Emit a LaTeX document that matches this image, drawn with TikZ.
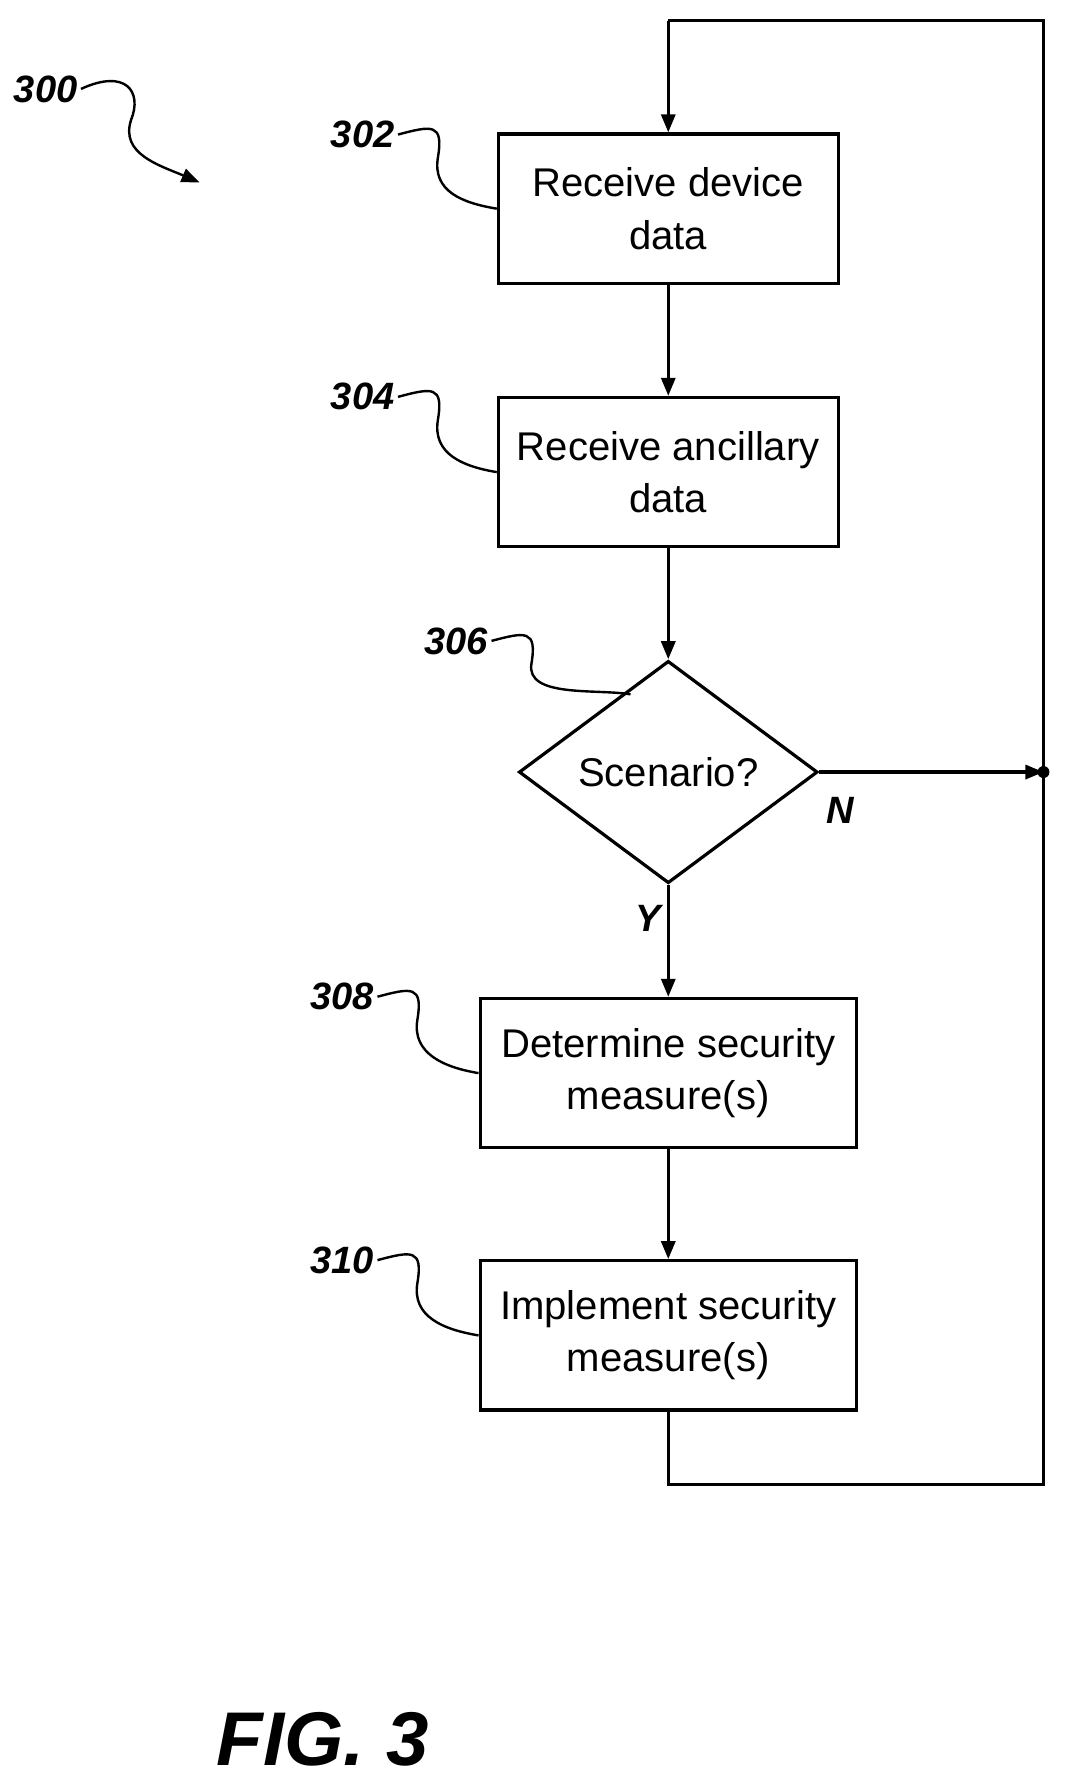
\documentclass[tikz,border=0pt]{standalone}
\usepackage{fontspec}
\setmainfont{Liberation Sans}
\usetikzlibrary{shapes.geometric, positioning, arrows.meta, calc}

\begin{document}
\begin{tikzpicture}[x=0.02cm,y=-0.02cm,
      line width=1.6pt,
      >={Triangle[length=9pt,width=7pt]},
      block/.style={
        draw,
        minimum width=5.96cm,
        minimum height=2.62cm,
        align=center,
        font=\fontsize{20}{26}\selectfont,
        inner sep=0pt,
      },
      wide/.style={block,minimum width=6.6cm},
      decision/.style={
        draw,
        diamond,
        minimum width=5.24cm,
        minimum height=3.9cm,
        inner sep=0pt,
        font=\fontsize{20}{26}\selectfont,
      },
      ref/.style={font=\bfseries\itshape\fontsize{19}{22}\selectfont,inner sep=1pt},
      lead/.style={line width=1.2pt},
      ]
      \useasboundingbox (0,0) rectangle (940,1567);
      \node[block] (recv) at (586,183) {Receive device\\data};
      \node[block] (anc) at (586,414) {Receive ancillary\\data};
      \node[decision] (scen) at (586,677) {Scenario?};
      \node[wide] (det) at (586,941) {Determine security\\measure(s)};
      \node[wide] (impl) at (586,1171) {Implement security\\measure(s)};
      \coordinate (join) at (915,677);
      \coordinate (br) at (915,1302);
      \coordinate (bl) at (586,1302);
      \coordinate (tr) at (915,18);
      \coordinate (tl) at (586,18);
      \draw[->] (recv) -- (anc);
      \draw[->] (anc) -- (scen);
      \draw[->] (scen) -- node[pos=0.3,left=2pt,ref]{Y} (det);
      \draw[->] (det) -- (impl);
      \draw[->] (scen.east) -- (join);
      \fill (join) circle (3pt);
      \draw (impl) -- (bl) -- (br) -- (tr) -- (tl);
      \draw[->] (tl) -- (recv);
      \node[ref] (no) at (737,711) {N};
      % reference numerals
      \node[ref] (n300) at (40,78) {300};
      \node[ref] (n302) at (318,118) {302};
      \node[ref] (n304) at (318,348) {304};
      \node[ref] (n306) at (400,562) {306};
      \node[ref] (n308) at (300,874) {308};
      \node[ref] (n310) at (300,1105) {310};
      \draw[lead,->] (n300.east) .. controls (110,60) and (125,80) .. (115,105)
        .. controls (105,135) and (140,145) .. (175,160);
      \foreach \n/\b in {n302/recv,n304/anc,n308/det,n310/impl}{
        \draw[lead] (\n.east) .. controls +(30,-8) and +(5,-30) .. ++(35,20)
          .. controls +(-5,30) and +(-30,-5) .. (\b.west);
      }
      \draw[lead] (n306.east) .. controls +(30,-8) and +(5,-30) .. ++(35,20)
        .. controls +(-5,30) and +(-30,-5) .. ($(scen.north west)!0.5!(scen.north)+(0,6)$);
      \node[font=\bfseries\itshape\fontsize{38}{44}\selectfont] (fig) at (283,1525) {FIG. 3};
    \end{tikzpicture}
\end{document}
